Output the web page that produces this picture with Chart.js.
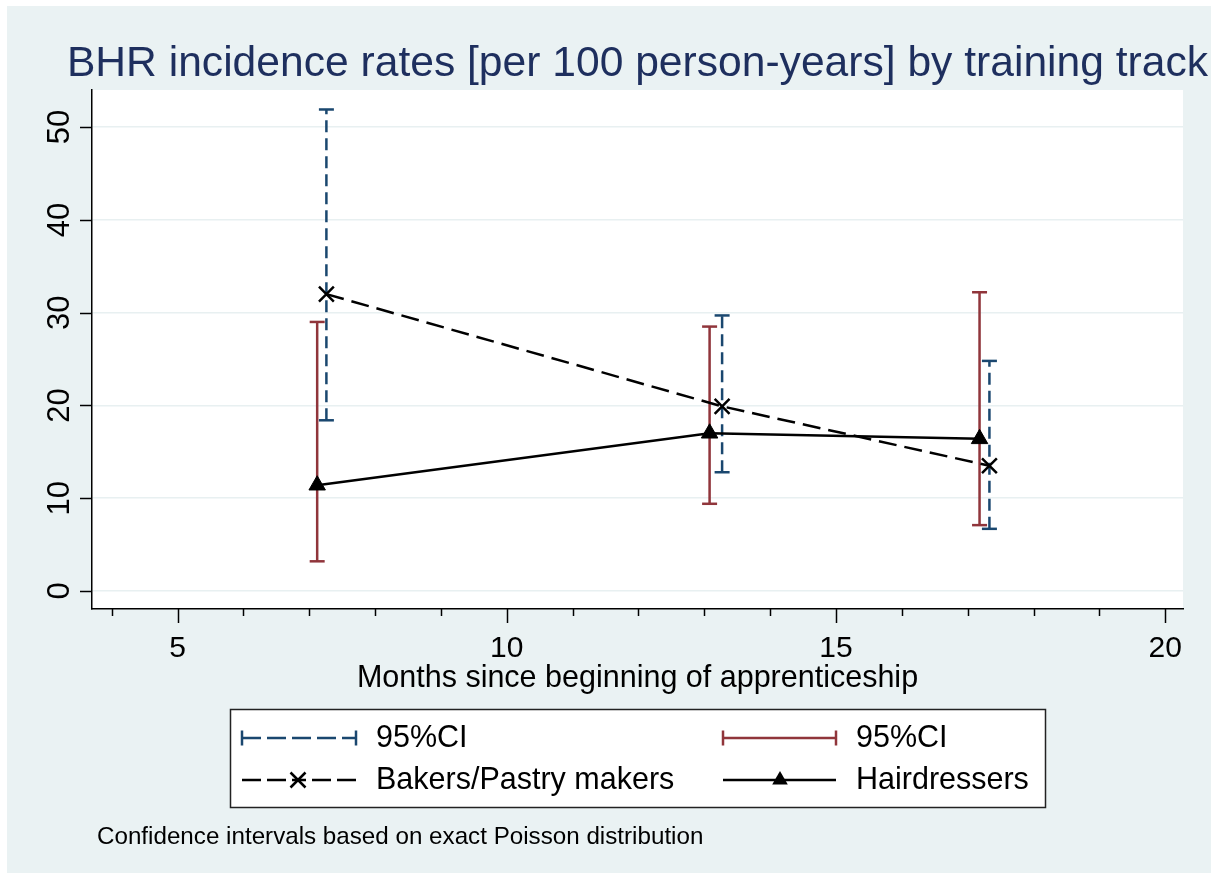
<!DOCTYPE html>
<html>
<head>
<meta charset="utf-8">
<title>BHR incidence rates by training track</title>
<script src="https://cdn.jsdelivr.net/npm/chart.js@4.4.1/dist/chart.umd.min.js"></script>
<style>
    html, body { margin: 0; padding: 0; background: #fff; }
    #chart { display: block; }
</style>
</head>
<body>
<canvas id="chart" width="1218" height="879"></canvas>
<script>
// Values
const bakerMonths = [7.26, 13.27, 17.33];
const bakerRate = [32.0, 19.9, 13.5];
const bakerLow = [18.4, 12.8, 6.7];
const bakerHigh = [51.9, 29.7, 24.8];

const hairMonths = [7.12, 13.08, 17.18];
const hairRate = [11.4, 17.0, 16.4];
const hairLow = [3.2, 9.4, 7.1];
const hairHigh = [29.0, 28.5, 32.2];

const xMajorTicks = [5, 10, 15, 20];
const xMinorTicks = [4, 5, 6, 7, 8, 9, 10, 11, 12, 13, 14, 15, 16, 17, 18, 19, 20];
const yTicks = [0, 10, 20, 30, 40, 50];

const titleText = 'BHR incidence rates [per 100 person-years] by training track';
const xTitle = 'Months since beginning of apprenticeship';
const noteText = 'Confidence intervals based on exact Poisson distribution';
const legendLabels = ['95%CI', '95%CI', 'Bakers/Pastry makers', 'Hairdressers'];

const navy = '#1a476f';
const maroon = '#90353b';
const FONT = '"Liberation Sans", Arial, sans-serif';

// low/high pairs separated by a null so each interval is its own segment
function capBars(months, low, high) {
    const pts = [];
    months.forEach((m, i) => {
        pts.push({ x: m, y: low[i] }, { x: m, y: high[i] }, { x: m, y: null });
    });
    return pts;
}

function pairUp(xs, ys) {
    return xs.map((x, i) => ({ x: x, y: ys[i] }));
}

const stataDecor = {
    id: 'stataDecor',
    beforeDraw(chart) {
        const ctx = chart.ctx, a = chart.chartArea;
        ctx.save();
        ctx.fillStyle = '#ffffff';
        ctx.fillRect(0, 0, chart.width, chart.height);
        ctx.fillStyle = '#eaf2f3';
        ctx.fillRect(7, 6, chart.width - 14, chart.height - 12);
        ctx.fillStyle = '#ffffff';
        ctx.fillRect(a.left, a.top, a.right - a.left, a.bottom - a.top);
        ctx.restore();
    },
    afterDraw(chart) {
        const ctx = chart.ctx, a = chart.chartArea;
        const xs = chart.scales.x, ys = chart.scales.y;
        ctx.save();
        ctx.strokeStyle = '#000';
        ctx.lineWidth = 1.5;

        // x ticks, major and minor
        xMinorTicks.forEach(v => {
            const px = Math.round(xs.getPixelForValue(v)) + 0.5;
            const len = xMajorTicks.includes(v) ? 14 : 7;
            ctx.beginPath();
            ctx.moveTo(px, a.bottom);
            ctx.lineTo(px, a.bottom + len);
            ctx.stroke();
        });
        ctx.fillStyle = '#000';
        ctx.font = '30px ' + FONT;
        ctx.textAlign = 'center';
        ctx.textBaseline = 'alphabetic';
        xMajorTicks.forEach(v => {
            ctx.fillText(String(v), xs.getPixelForValue(v), 657);
        });
        ctx.font = '30.5px ' + FONT;
        ctx.fillText(xTitle, (a.left + a.right) / 2, 687);

        // y ticks and rotated labels
        ctx.font = '31px ' + FONT;
        yTicks.forEach(v => {
            const py = Math.round(ys.getPixelForValue(v)) + 0.5;
            ctx.beginPath();
            ctx.moveTo(a.left - 12, py);
            ctx.lineTo(a.left, py);
            ctx.stroke();
            ctx.save();
            ctx.translate(68.5, ys.getPixelForValue(v));
            ctx.rotate(-Math.PI / 2);
            ctx.fillText(String(v), 0, 0);
            ctx.restore();
        });

        // title
        ctx.fillStyle = '#1e2f5e';
        ctx.font = '42.6px ' + FONT;
        ctx.fillText(titleText, 637.5, 76);

        // legend box
        ctx.fillStyle = '#ffffff';
        ctx.fillRect(230.5, 709.5, 815, 98);
        ctx.strokeStyle = '#222';
        ctx.lineWidth = 1.5;
        ctx.strokeRect(230.5, 709.5, 815, 98);

        const row1 = 738, row2 = 780;
        // blue dashed CI key
        ctx.strokeStyle = navy;
        ctx.lineWidth = 2.5;
        ctx.setLineDash([19, 6]);
        ctx.beginPath();
        ctx.moveTo(242, row1);
        ctx.lineTo(356, row1);
        ctx.stroke();
        ctx.setLineDash([]);
        [242, 356].forEach(px => {
            ctx.beginPath();
            ctx.moveTo(px, row1 - 7.5);
            ctx.lineTo(px, row1 + 7.5);
            ctx.stroke();
        });
        // red CI key
        ctx.strokeStyle = maroon;
        ctx.beginPath();
        ctx.moveTo(723, row1);
        ctx.lineTo(836, row1);
        ctx.stroke();
        [723, 836].forEach(px => {
            ctx.beginPath();
            ctx.moveTo(px, row1 - 7.5);
            ctx.lineTo(px, row1 + 7.5);
            ctx.stroke();
        });
        // bakers key: dashes from both ends towards the marker
        ctx.strokeStyle = '#000';
        ctx.setLineDash([19, 6]);
        ctx.beginPath();
        ctx.moveTo(242, row2);
        ctx.lineTo(298, row2);
        ctx.moveTo(356, row2);
        ctx.lineTo(298, row2);
        ctx.stroke();
        ctx.setLineDash([]);
        ctx.beginPath();
        ctx.moveTo(298 - 7.5, row2 - 7.5);
        ctx.lineTo(298 + 7.5, row2 + 7.5);
        ctx.moveTo(298 - 7.5, row2 + 7.5);
        ctx.lineTo(298 + 7.5, row2 - 7.5);
        ctx.stroke();
        // hairdressers key
        ctx.beginPath();
        ctx.moveTo(723, row2);
        ctx.lineTo(836, row2);
        ctx.stroke();
        ctx.fillStyle = '#000';
        ctx.beginPath();
        ctx.moveTo(780, row2 - 9);
        ctx.lineTo(780 + 7.8, row2 + 4.5);
        ctx.lineTo(780 - 7.8, row2 + 4.5);
        ctx.closePath();
        ctx.fill();

        ctx.font = '30.5px ' + FONT;
        ctx.textAlign = 'left';
        ctx.textBaseline = 'middle';
        ctx.fillText(legendLabels[0], 376, row1 + 1);
        ctx.fillText(legendLabels[1], 856, row1 + 1);
        ctx.fillText(legendLabels[2], 376, row2 + 1);
        ctx.fillText(legendLabels[3], 856, row2 + 1);

        // note
        ctx.font = '24.2px ' + FONT;
        ctx.textBaseline = 'alphabetic';
        ctx.fillText(noteText, 97, 844);

        ctx.restore();
    }
};

const ctx = document.getElementById('chart').getContext('2d');
const incidenceChart = new Chart(ctx, {
    type: 'line',
    data: {
        datasets: [
            {
                label: 'Bakers/Pastry makers',
                data: pairUp(bakerMonths, bakerRate),
                borderColor: '#000',
                borderWidth: 2.5,
                borderDash: [18, 8],
                pointStyle: 'crossRot',
                pointRadius: 10.5,
                pointBorderWidth: 2.5,
                pointBorderColor: '#000',
                pointBackgroundColor: '#000',
                order: 0
            },
            {
                label: 'Hairdressers',
                data: pairUp(hairMonths, hairRate),
                borderColor: '#000',
                borderWidth: 2.5,
                pointStyle: 'triangle',
                pointRadius: 9.5,
                pointBorderWidth: 1,
                pointBorderColor: '#000',
                pointBackgroundColor: '#000',
                order: 0
            },
            {
                label: '95%CI bakers',
                data: capBars(bakerMonths, bakerLow, bakerHigh),
                borderColor: navy,
                borderWidth: 2.5,
                borderDash: [12, 6],
                pointStyle: 'line',
                pointRadius: 7.5,
                pointBorderWidth: 2.5,
                pointBorderColor: navy,
                spanGaps: false,
                order: 1
            },
            {
                label: '95%CI hairdressers',
                data: capBars(hairMonths, hairLow, hairHigh),
                borderColor: maroon,
                borderWidth: 2.5,
                pointStyle: 'line',
                pointRadius: 7.5,
                pointBorderWidth: 2.5,
                pointBorderColor: maroon,
                spanGaps: false,
                order: 1
            }
        ]
    },
    options: {
        responsive: false,
        animation: false,
        devicePixelRatio: 1,
        events: [],
        layout: { padding: { left: 0, right: 35, top: 90, bottom: 0 } },
        plugins: {
            legend: { display: false },
            tooltip: { enabled: false },
            title: { display: false }
        },
        scales: {
            x: {
                type: 'linear',
                min: 3.7,
                max: 20.27,
                grid: { drawOnChartArea: false, drawTicks: false },
                border: { display: true, color: '#000', width: 1.5 },
                ticks: { display: false },
                afterFit(s) { s.height = 270; }
            },
            y: {
                type: 'linear',
                min: -1.94,
                max: 54.0,
                afterBuildTicks(s) { s.ticks = yTicks.map(v => ({ value: v })); },
                grid: { color: '#e8f0f1', lineWidth: 1.5, drawTicks: false },
                border: { display: true, color: '#000', width: 1.5 },
                ticks: { display: false },
                afterFit(s) { s.width = 92; }
            }
        }
    },
    plugins: [stataDecor]
});
</script>
</body>
</html>
